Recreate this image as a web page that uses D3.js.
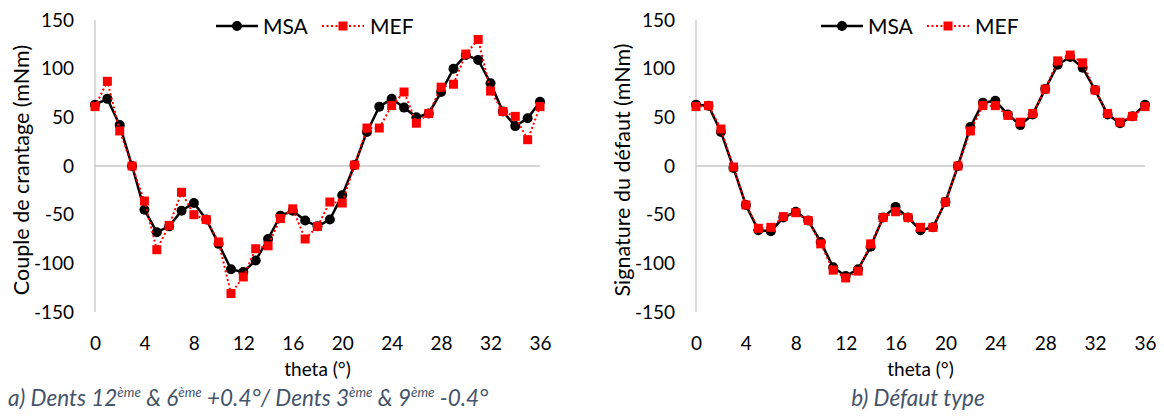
<!DOCTYPE html>
<html><head><meta charset="utf-8">
<script src="https://cdn.jsdelivr.net/npm/d3@7"></script>
<style>
body{margin:0;background:#fff;}
svg{display:block;font-family:Lato,"Open Sans",sans-serif;}
</style></head><body>
<svg id="c" width="1164" height="416"></svg>
<script>
const theta = d3.range(0, 37);
const xTicks = [0,4,8,12,16,20,24,28,32,36];
const yTicks = [-150,-100,-50,0,50,100,150];
const seriesNames = ["MSA","MEF"];

const msaA = [63,69,42,0,-45,-68,-62,-46,-38,-55,-80,-106,-109,-97,-75,-51,-46,-56,-62,-55,-30,1,35,61,69,60,50,54,76,100,114,109,85,56,41,49,66];
const mefA = [61,87,36,0,-36,-86,-61,-27,-50,-55,-78,-131,-114,-85,-82,-54,-44,-75,-62,-37,-38,1,39,39,62,76,44,54,81,84,115,130,77,56,51,27,61];
const msaB = [63,62,35,-2,-40,-66,-67,-53,-47,-56,-78,-104,-113,-106,-83,-53,-42,-53,-66,-63,-37,0,40,65,67,53,42,53,79,104,112,101,78,53,44,51,63];
const mefB = [61,62,38,-1,-40,-64,-63,-52,-48,-56,-80,-107,-115,-108,-80,-53,-47,-53,-63,-63,-37,0,36,62,62,52,45,54,79,108,114,106,78,54,45,51,61];

const titlesY = ["Couple de crantage (mNm)","Signature du défaut (mNm)"];
const xTitle = "theta (°)";

const svg = d3.select("#c");

function panel(cfg){
  const g = svg.append("g");
  const x = d3.scaleLinear().domain([0,36]).range([cfg.x0, cfg.x1]);
  const y = d3.scaleLinear().domain([-150,150]).range([312, 20]);
  g.append("line").attr("x1",cfg.x0).attr("x2",cfg.x0).attr("y1",y(150)).attr("y2",y(-150))
    .attr("stroke","#c8c8c8").attr("stroke-width",1.3);
  g.append("line").attr("x1",cfg.x0).attr("x2",cfg.x1).attr("y1",y(0)).attr("y2",y(0))
    .attr("stroke","#c8c8c8").attr("stroke-width",1.3);
  const ya = d3.axisLeft(y).tickValues(yTicks).tickSize(0).tickPadding(0).tickFormat(d=>String(d));
  const yg = g.append("g").attr("transform",`translate(${cfg.x0-21},0)`).call(ya);
  yg.select(".domain").remove();
  yg.selectAll("text").attr("font-size",19).attr("fill","#000").attr("font-family","Lato");
  const xa = d3.axisBottom(x).tickValues(xTicks).tickSize(0).tickPadding(0).tickFormat(d=>String(d));
  const xg = g.append("g").attr("transform",`translate(0,${336})`).call(xa);
  xg.select(".domain").remove();
  xg.selectAll("text").attr("font-size",19).attr("fill","#000").attr("font-family","Lato");
  g.append("text").attr("x",(cfg.x0+cfg.x1)/2).attr("y",376).attr("text-anchor","middle")
    .attr("font-size",19).text(xTitle);
  g.append("text").attr("transform",`translate(${cfg.yt},170) rotate(-90)`).attr("text-anchor","middle")
    .attr("font-size",21.5).text(cfg.ytitle);
  const line = d3.line().x((d,i)=>x(theta[i])).y(d=>y(d));
  g.append("path").datum(cfg.msa).attr("d",line).attr("fill","none").attr("stroke","#000").attr("stroke-width",2.5);
  g.selectAll(".c").data(cfg.msa).join("circle").attr("cx",(d,i)=>x(theta[i])).attr("cy",d=>y(d)).attr("r",5).attr("fill","#000");
  g.append("path").datum(cfg.mef).attr("d",line).attr("fill","none").attr("stroke","#ff0000").attr("stroke-width",2).attr("stroke-dasharray","2,2.5");
  g.selectAll(".s").data(cfg.mef).join("rect").attr("x",(d,i)=>x(theta[i])-4.5).attr("y",d=>y(d)-4.5).attr("width",9).attr("height",9).attr("fill","#ff0000");
  const lg = g.append("g");
  const ly = 26;
  lg.append("line").attr("x1",cfg.lx).attr("x2",cfg.lx+42).attr("y1",ly).attr("y2",ly).attr("stroke","#000").attr("stroke-width",2.5);
  lg.append("circle").attr("cx",cfg.lx+21).attr("cy",ly).attr("r",5).attr("fill","#000");
  lg.append("text").attr("x",cfg.lx+47).attr("y",ly+7.5).attr("font-size",21).text(seriesNames[0]);
  const mx = cfg.lx+106;
  lg.append("line").attr("x1",mx).attr("x2",mx+42).attr("y1",ly).attr("y2",ly).attr("stroke","#ff0000").attr("stroke-width",2).attr("stroke-dasharray","2,2.5");
  lg.append("rect").attr("x",mx+21-4.5).attr("y",ly-4.5).attr("width",9).attr("height",9).attr("fill","#ff0000");
  lg.append("text").attr("x",mx+48).attr("y",ly+7.5).attr("font-size",21).text(seriesNames[1]);
  const cap = g.append("text").attr("x",cfg.capx).attr("y",cfg.capy).attr("text-anchor",cfg.capAnchor)
    .attr("font-size",22.5).attr("font-style","italic").attr("fill","#44546a");
  cfg.caption(cap);
}

function capA(t){
  const sup = (s)=>{ t.append("tspan").attr("font-size",13.5).attr("dy",-9).text(s); };
  const base = (s)=>{ t.append("tspan").attr("dy",9).text(s); };
  t.append("tspan").text("a) Dents 12");
  sup("ème"); base(" & 6"); sup("ème"); base(" +0.4°/ Dents 3"); sup("ème"); base(" & 9"); sup("ème"); base(" -0.4°");
}
function capB(t){ t.text("b) Défaut type"); }

panel({x0:95,x1:540,msa:msaA,mef:mefA,ytitle:titlesY[0],yt:29,lx:216,capx:8,capy:406,capAnchor:"start",caption:capA});
panel({x0:696,x1:1145,msa:msaB,mef:mefB,ytitle:titlesY[1],yt:630,lx:821,capx:918,capy:406,capAnchor:"middle",caption:capB});
</script></body></html>
